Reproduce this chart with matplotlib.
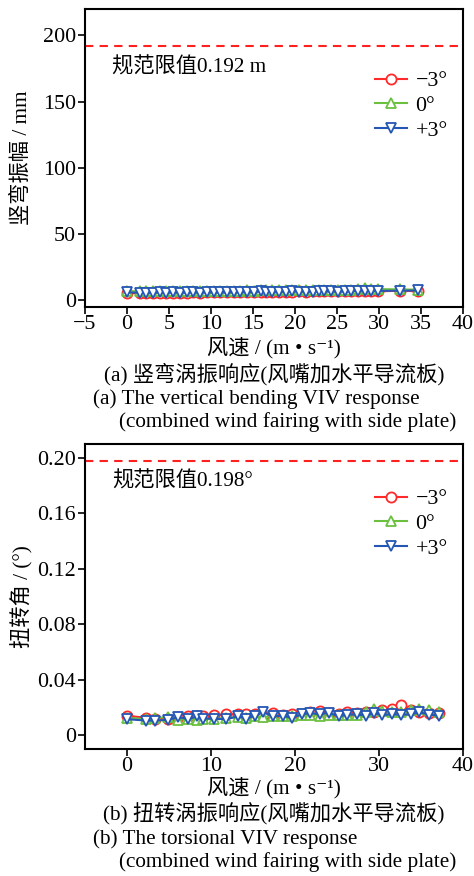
import matplotlib
matplotlib.use("Agg")
import matplotlib.pyplot as plt

FAM = ['Liberation Serif', 'Noto Sans CJK SC', 'DejaVu Serif']
plt.rcParams['font.family'] = FAM

# ---------------- data ----------------
series_labels = ['\u22123\u00b0', '0\u00b0', '+3\u00b0']
colors = ['#ff2a2a', '#6cc040', '#2456b4']
markers = ['o', '^', 'v']

# (a) vertical bending amplitude (mm)
wind_a = [0, 1.5, 2.3, 3.1, 3.9, 4.7, 5.5, 6.3, 7.1, 7.9, 8.7, 9.5, 10.3, 11.1,
          11.9, 12.7, 13.5, 14.3, 15.1, 15.9, 16.5, 17.3, 18.1, 18.9, 19.7,
          20.5, 21.3, 22.1, 22.9, 23.5, 24.3, 25.1, 25.9, 26.7, 27.5, 28.3,
          29.1, 29.9, 32.5, 34.6]
amp_m3 = [5.8, 5.5, 5.6, 5.7, 5.6, 5.8, 5.7, 5.9, 5.8, 6.0, 5.9, 6.1, 6.0, 6.0,
          6.2, 6.1, 6.3, 6.2, 6.4, 6.3, 6.6, 6.5, 6.6, 6.7, 6.6, 6.8, 6.7,
          6.9, 6.8, 7.0, 6.9, 7.1, 7.0, 7.2, 7.3, 7.1, 7.4, 6.8, 7.3, 6.9]
amp_0 = [6.8, 7.0, 7.1, 7.0, 7.2, 7.1, 7.2, 7.0, 7.3, 7.2, 7.3, 7.2, 7.3, 7.4,
         7.3, 7.4, 7.3, 7.5, 7.4, 7.5, 7.6, 7.5, 7.6, 7.5, 7.7, 7.6, 7.7,
         7.6, 7.8, 7.7, 7.8, 7.7, 7.9, 8.0, 8.6, 9.0, 8.3, 8.5, 8.3, 8.1]
amp_p3 = [6.0, 5.8, 5.9, 5.8, 6.0, 5.9, 6.0, 5.9, 6.0, 6.0, 5.9, 6.1, 6.0, 6.1,
          6.0, 6.1, 6.2, 6.1, 6.3, 6.9, 6.5, 6.4, 6.5, 6.6, 7.0, 6.7, 6.6,
          6.5, 7.3, 7.0, 6.8, 6.7, 6.8, 7.0, 7.3, 7.2, 7.0, 7.2, 7.3, 7.5]
limit_a = 192

# (b) torsional angle (deg)
wind_b = [0, 2.3, 3.3, 4.9, 6.1, 7.3, 8.3, 9.1, 10.4, 11.8, 13.2, 14.2, 15.2,
          16.2, 17.4, 18.6, 19.6, 20.8, 21.8, 23.0, 24.0, 25.2, 26.2, 27.4,
          28.4, 29.4, 30.4, 31.6, 32.6, 33.8, 34.8, 36.0, 37.1]
ang_m3 = [0.0140, 0.0125, 0.0120, 0.0118, 0.0130, 0.0138, 0.0140, 0.0135,
          0.0142, 0.0150, 0.0152, 0.0150, 0.0155, 0.0140, 0.0160, 0.0145,
          0.0150, 0.0150, 0.0165, 0.0172, 0.0160, 0.0155, 0.0170, 0.0160,
          0.0165, 0.0170, 0.0178, 0.0185, 0.0220, 0.0182, 0.0170, 0.0160,
          0.0158]
ang_0 = [0.0125, 0.0115, 0.0122, 0.0132, 0.0112, 0.0115, 0.0112, 0.0115,
         0.0118, 0.0125, 0.0130, 0.0125, 0.0135, 0.0130, 0.0140, 0.0138,
         0.0140, 0.0142, 0.0145, 0.0140, 0.0148, 0.0142, 0.0145, 0.0148,
         0.0165, 0.0190, 0.0175, 0.0165, 0.0170, 0.0180, 0.0185, 0.0180,
         0.0170]
ang_p3 = [0.0115, 0.0105, 0.0105, 0.0110, 0.0130, 0.0115, 0.0135, 0.0120,
          0.0118, 0.0115, 0.0135, 0.0120, 0.0140, 0.0165, 0.0135, 0.0140,
          0.0125, 0.0150, 0.0160, 0.0150, 0.0162, 0.0135, 0.0148, 0.0150,
          0.0140, 0.0158, 0.0145, 0.0150, 0.0148, 0.0150, 0.0165, 0.0148,
          0.0140]
limit_b = 0.198

FS = 15.3
TFS = 15.8
W, H = 474, 876
fig = plt.figure(figsize=(W / 100, H / 100), dpi=100)


def fx(x):
    return x / W


def fy(y):
    return 1 - y / H


def style_axes(ax):
    for s in ax.spines.values():
        s.set_linewidth(1.5)
    ax.tick_params(direction='out', length=5, width=1.2, labelsize=TFS,
                   top=False, right=False)
    ax.tick_params(axis='y', pad=1.5)
    ax.tick_params(axis='x', pad=1.0)


def draw(ax, x, ys):
    for y, c, m, lab in zip(ys, colors, markers, series_labels):
        ax.plot(x, y, color=c, marker=m, markerfacecolor='white',
                markeredgecolor=c, markersize=7.3, markeredgewidth=1.3,
                linewidth=1.5, label=lab)


def legend(ax, top_px):
    ax.legend(loc='upper left', bbox_to_anchor=(fx(375), fy(top_px)),
              bbox_transform=fig.transFigure, frameon=False, fontsize=FS + 0.5,
              handlelength=1.45, handletextpad=0.4, labelspacing=0.2,
              borderpad=0, borderaxespad=0)


def texts(dy, note_y, note, ylab, cap, en1, yl_center):
    fig.text(fx(112), fy(note_y), note, fontsize=FS, va='baseline', ha='left')
    fig.text(fx(22), fy(yl_center), ylab, fontsize=FS, rotation=90,
             va='center', ha='center')
    fig.text(fx(274), fy(353 + dy), '风速 / (m \u2022 s\u207b\u00b9)', fontsize=FS,
             va='baseline', ha='center')
    fig.text(fx(274), fy(380 + dy), cap, fontsize=FS, va='baseline', ha='center')
    fig.text(fx(93), fy(404 + dy), en1, fontsize=FS, va='baseline', ha='left')
    fig.text(fx(119), fy(427 + dy), '(combined wind fairing with side plate)',
             fontsize=FS, va='baseline', ha='left')


# ---------- panel (a) ----------
ax1 = fig.add_axes([fx(85), fy(307), fx(463) - fx(85), fy(9) - fy(307)])
draw(ax1, wind_a, [amp_m3, amp_0, amp_p3])
ax1.axhline(limit_a, color='#ff2020', linestyle=(0, (4, 3)), linewidth=1.5)
ax1.set_xlim(-5, 40)
ax1.set_ylim(-5, 220)
ax1.set_xticks([-5, 0, 5, 10, 15, 20, 25, 30, 35, 40])
ax1.set_yticks([0, 50, 100, 150, 200])
style_axes(ax1)
legend(ax1, 71)
texts(0, 73, '规范限值0.192 m', '竖弯振幅 / mm', '(a) 竖弯涡振响应(风嘴加水平导流板)',
      '(a) The vertical bending VIV response', 158)

# ---------- panel (b) ----------
ax2 = fig.add_axes([fx(85), fy(749), fx(463) - fx(85), fy(444) - fy(749)])
draw(ax2, wind_b, [ang_m3, ang_0, ang_p3])
ax2.axhline(limit_b, color='#ff2020', linestyle=(0, (4, 3)), linewidth=1.5)
ax2.set_xlim(-5, 40)
ax2.set_ylim(-0.01, 0.21)
ax2.set_xticks([0, 10, 20, 30, 40])
ax2.set_yticks([0, 0.04, 0.08, 0.12, 0.16, 0.20])
ax2.set_yticklabels(['0', '0.04', '0.08', '0.12', '0.16', '0.20'])
style_axes(ax2)
legend(ax2, 489)
texts(440, 487, '规范限值0.198\u00b0', '扭转角 / (\u00b0)', '(b) 扭转涡振响应(风嘴加水平导流板)',
      '(b) The torsional VIV response', 597)

fig.savefig('out.png', dpi=100)
